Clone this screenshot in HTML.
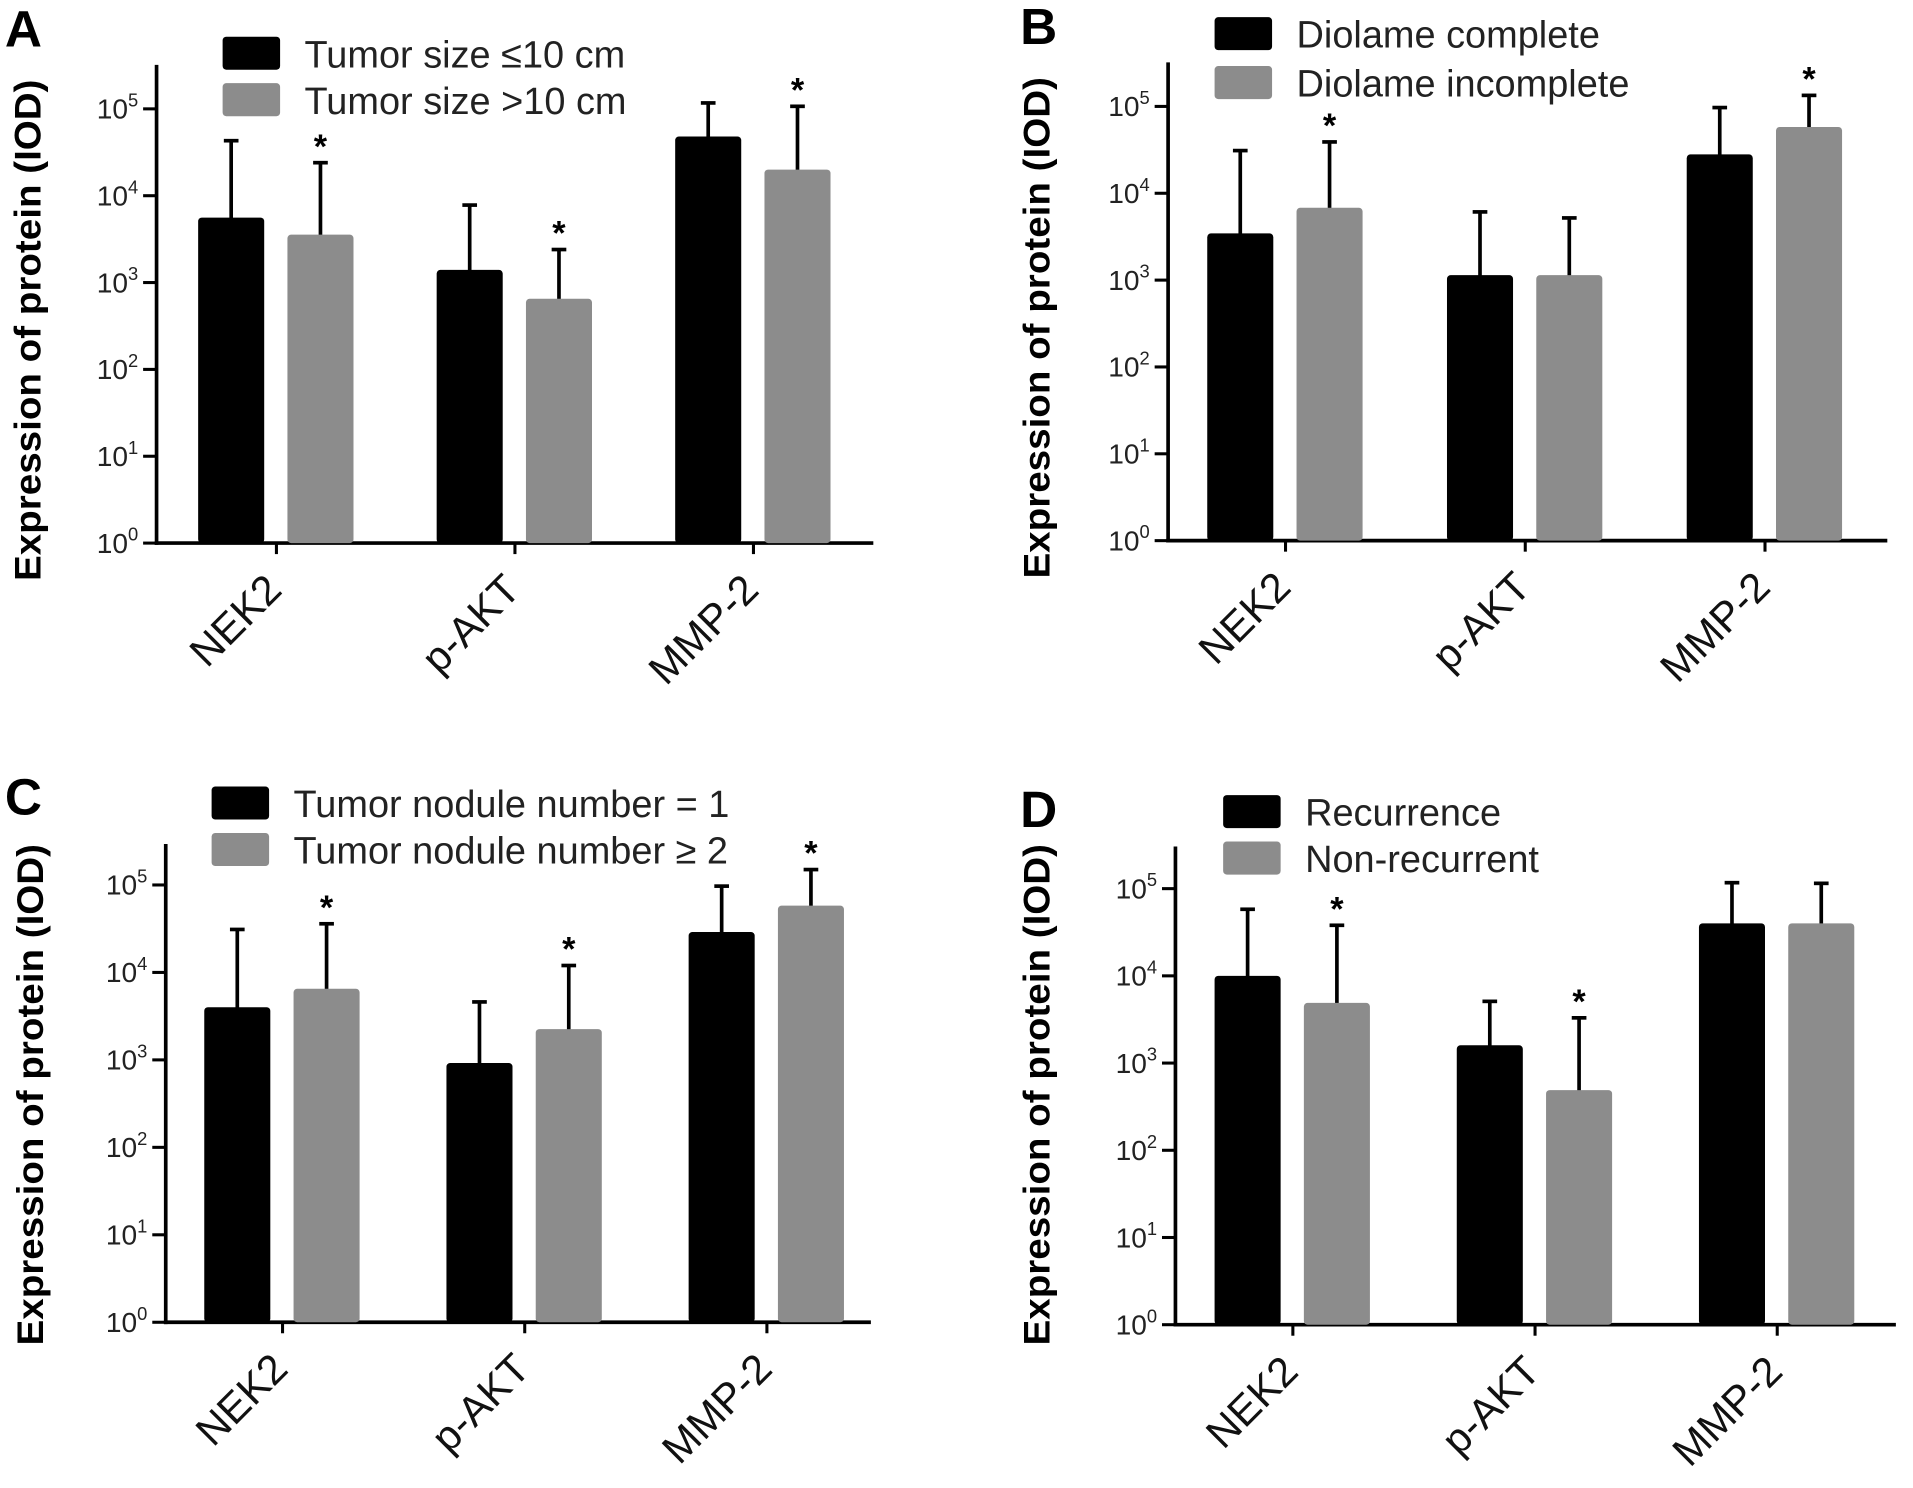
<!DOCTYPE html>
<html><head><meta charset="utf-8"><style>
html,body{margin:0;padding:0;background:#fff;}
svg{display:block;}
text{font-family:"Liberation Sans",Arial,sans-serif;}
</style></head>
<body>
<svg id="fig" width="1913" height="1488" viewBox="0 0 1564 1216.5" preserveAspectRatio="none" xmlns="http://www.w3.org/2000/svg"></svg>
<script>
const categories = ["NEK2", "p-AKT", "MMP-2"];
const decadeLabels = [0, 1, 2, 3, 4, 5];
// Panel A
const aLegend = ["Tumor size \u226410 cm", "Tumor size >10 cm"];
const aMean1 = [5600, 1400, 48000];
const aErr1 = [43000, 7800, 117000];
const aMean2 = [3560, 650, 20000];
const aErr2 = [24000, 2400, 107000];
const aStar1 = [false, false, false];
const aStar2 = [true, true, true];
// Panel B
const bLegend = ["Diolame complete", "Diolame incomplete"];
const bMean1 = [3450, 1140, 28000];
const bErr1 = [31000, 6100, 97000];
const bMean2 = [6800, 1140, 58000];
const bErr2 = [39000, 5200, 134000];
const bStar1 = [false, false, false];
const bStar2 = [true, false, true];
// Panel C
const cLegend = ["Tumor nodule number = 1", "Tumor nodule number \u2265 2"];
const cMean1 = [4000, 920, 29000];
const cErr1 = [31000, 4600, 97000];
const cMean2 = [6500, 2250, 58000];
const cErr2 = [36000, 12000, 150000];
const cStar1 = [false, false, false];
const cStar2 = [true, true, true];
// Panel D
const dLegend = ["Recurrence", "Non-recurrent"];
const dMean1 = [10000, 1600, 40000];
const dErr1 = [58000, 5100, 117000];
const dMean2 = [4900, 490, 40000];
const dErr2 = [38000, 3300, 115000];
const dStar1 = [false, false, false];
const dStar2 = [true, true, false];

const NS = "http://www.w3.org/2000/svg";
const svg = document.getElementById("fig");
function mk(tag, attrs, parent, txt) {
  const e = document.createElementNS(NS, tag);
  for (const k in attrs) e.setAttribute(k, attrs[k]);
  if (txt !== undefined) e.textContent = txt;
  (parent || svg).appendChild(e);
  return e;
}

function panel(cfg) {
  const g = mk("g", {});
  
  
  const y = v => cfg.base - Math.log10(v) * cfg.dec;
  const L = mk("text", {x: cfg.lx, y: cfg.ly, "font-size": 42, "font-weight": "bold"}, g, cfg.letter);
  
  
  const t = mk("text", {transform: `translate(${cfg.tx},${cfg.tcy}) rotate(-90)`, "text-anchor": "middle",
    "font-size": 30, "font-weight": "bold", textLength: 410, lengthAdjust: "spacingAndGlyphs"}, g, "Expression of protein (IOD)");
  
  
  const ya = mk("line", {x1: cfg.ax, y1: cfg.base - 391, x2: cfg.ax, y2: cfg.base + 1.5, stroke: "#000", "stroke-width": 3}, g);
  
  
  const xa = mk("line", {x1: cfg.ax - 1.5, y1: cfg.base, x2: cfg.right, y2: cfg.base, stroke: "#000", "stroke-width": 3}, g);
  
  
  decadeLabels.forEach(d => {
    const yy = cfg.base - d * cfg.dec;
    const tk = mk("line", {x1: cfg.ax - 11, y1: yy, x2: cfg.ax, y2: yy, stroke: "#000", "stroke-width": 2.5}, g);
    
    
    const lb = mk("text", {x: cfg.ax - 15, y: yy + 8, "text-anchor": "end", "font-size": 23, fill: "#222"}, g);
    
    
    mk("tspan", {}, lb, "10");
    mk("tspan", {"font-size": 15, dy: -10}, lb, String(d));
  });
  const barW = 54;
  categories.forEach((c, i) => {
    const cx = cfg.c0 + i * cfg.cs;
    const tk = mk("line", {x1: cx, y1: cfg.base, x2: cx, y2: cfg.base + 9, stroke: "#000", "stroke-width": 2.5}, g);
    
    
    const lb = mk("text", {transform: `translate(${cx + 6},${cfg.base + 40}) rotate(-45)`, "text-anchor": "end", "font-size": 34, fill: "#111"}, g, c);
    
    
    [[cfg.m1, cfg.e1, cfg.s1, "#000", -1], [cfg.m2, cfg.e2, cfg.s2, "#8c8c8c", 1]].forEach(([m, e, s, col, side], k) => {
      const bx = side < 0 ? cx - 10 - barW : cx + 9;
      const top = y(m[i]);
      const mid = bx + barW / 2;
      const et = y(e[i]);
      const el = mk("line", {x1: mid, y1: top + 2, x2: mid, y2: et, stroke: "#000", "stroke-width": 3}, g);
      
      
      const cap = mk("line", {x1: mid - 6, y1: et, x2: mid + 6, y2: et, stroke: "#000", "stroke-width": 3}, g);
      
      
      const r = mk("rect", {x: bx, y: top, width: barW, height: cfg.base - top, fill: col, rx: 3}, g);
      
      
      if (s[i]) {
        const st = mk("text", {x: mid, y: et - 4, "text-anchor": "middle", "font-size": 28, "font-weight": "bold"}, g, "*");
        
        
      }
    });
  });
  cfg.legend.forEach((txt, k) => {
    const sy = cfg.legY + k * cfg.legDy;
    const sw = mk("rect", {x: cfg.legX, y: sy, width: 47, height: 27, rx: 3, fill: k ? "#8c8c8c" : "#000"}, g);
    
    
    const lt = mk("text", {x: cfg.legX + 67, y: sy + 25, "font-size": 31, fill: "#222"}, g, txt);
    
    
  });
}

panel({letter: "A", lx: 4, ly: 38, tx: 33, tcy: 270, ax: 128, base: 444, right: 714, dec: 71,
  c0: 226, cs: 195, m1: aMean1, e1: aErr1, m2: aMean2, e2: aErr2, s1: aStar1, s2: aStar2,
  legend: aLegend, legX: 182, legY: 30, legDy: 38});
panel({letter: "B", lx: 834, ly: 36, tx: 858, tcy: 268, ax: 955, base: 442, right: 1543, dec: 71,
  c0: 1051, cs: 196, m1: bMean1, e1: bErr1, m2: bMean2, e2: bErr2, s1: bStar1, s2: bStar2,
  legend: bLegend, legX: 993, legY: 14, legDy: 40});
panel({letter: "C", lx: 4, ly: 666, tx: 35, tcy: 895, ax: 135.5, base: 1081, right: 712, dec: 71.5,
  c0: 231, cs: 198, m1: cMean1, e1: cErr1, m2: cMean2, e2: cErr2, s1: cStar1, s2: cStar2,
  legend: cLegend, legX: 173, legY: 643, legDy: 38});
panel({letter: "D", lx: 834, ly: 676, tx: 858, tcy: 895, ax: 961, base: 1083, right: 1550, dec: 71.3,
  c0: 1057, cs: 198, m1: dMean1, e1: dErr1, m2: dMean2, e2: dErr2, s1: dStar1, s2: dStar2,
  legend: dLegend, legX: 1000, legY: 650, legDy: 38});
</script>
</body></html>
